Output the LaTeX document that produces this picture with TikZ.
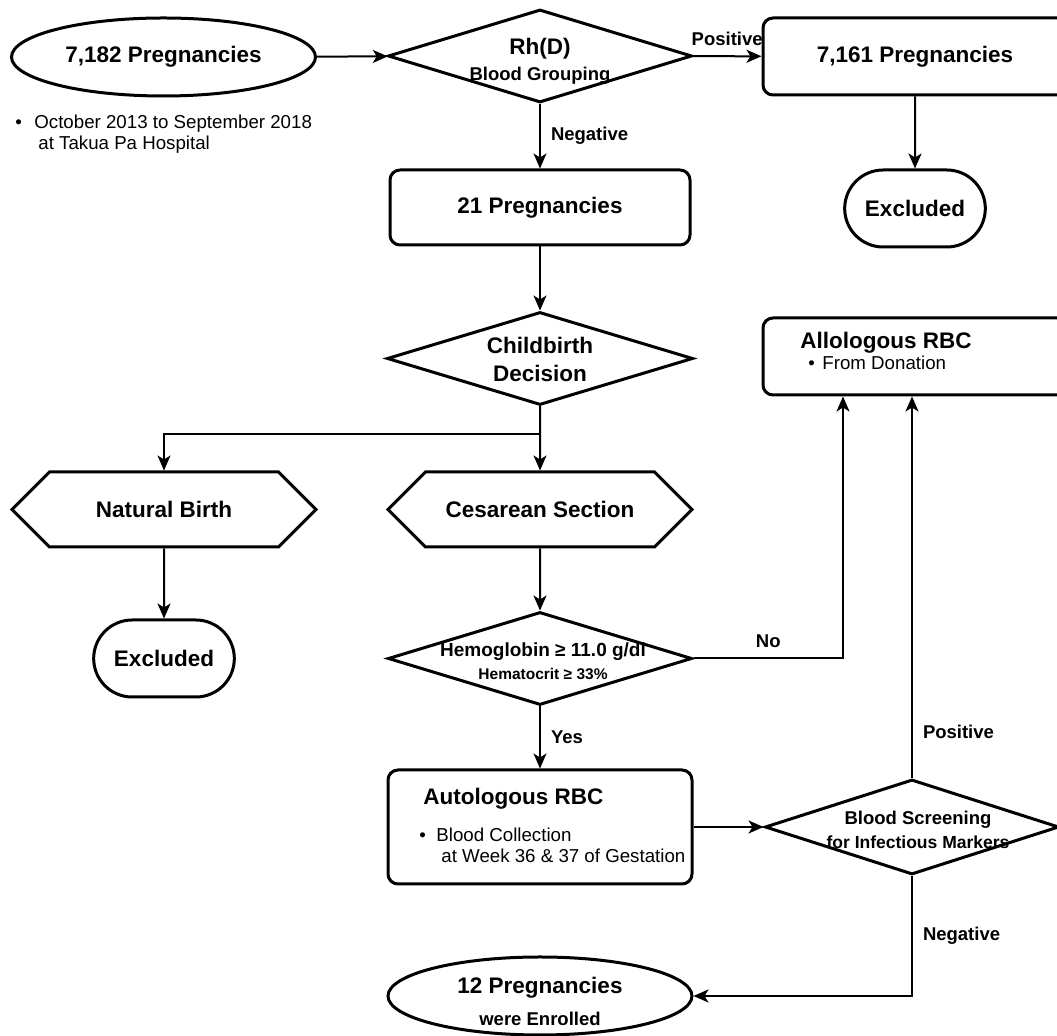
\documentclass[tikz,border=0pt]{standalone}
\usepackage{fontspec}
\setmainfont{Liberation Sans}
\usetikzlibrary{shapes.geometric,shapes.misc,shapes.symbols,arrows.meta}

\newcommand{\bigtxt}{\fontsize{11.25pt}{14pt}\selectfont\bfseries}
\newcommand{\medtxt}{\fontsize{9.25pt}{12pt}\selectfont\bfseries}
\newcommand{\plaintxt}{\fontsize{9.35pt}{10.5pt}\selectfont}
\newcommand{\smalltxt}{\fontsize{7.75pt}{11.5pt}\selectfont\bfseries}

\begin{document}
\begin{tikzpicture}[x=0.5pt, y=-0.5pt,
  outline/.style={draw, line width=1.5pt},
  terminal/.style={outline, ellipse, inner sep=0pt, minimum width=152pt, minimum height=39pt},
  process/.style={outline, rectangle, rounded corners=5pt, minimum width=152pt, minimum height=38.5pt, font=\bigtxt},
  exitbox/.style={outline, rounded rectangle, minimum width=77pt, minimum height=38.5pt, font=\bigtxt},
  decision/.style={outline, diamond, inner sep=0pt, minimum width=152pt, minimum height=46.5pt},
  choice/.style={outline, signal, signal to=west and east, signal pointer angle=90, minimum width=152pt, minimum height=37.5pt, font=\bigtxt},
  flow/.style={-{Stealth[length=7.5pt, width=6.5pt, inset=2pt]}, line width=1pt},
  lbl/.style={font=\medtxt, inner sep=2pt}]
  \useasboundingbox (0,0) rectangle (1057,1036);
  % Nodes
  \node[terminal] (start) at (163.5,57) {};
  \node[font=\bigtxt] (starttext) at (163.5,57) {7,182 Pregnancies};
  \node[font=\plaintxt, align=left, anchor=north west, inner sep=0pt] (period) at (15,115) {\makebox[9.5pt][l]{•}October 2013 to September 2018\\\hspace*{11.5pt}at Takua Pa Hospital};
  \node[decision] (rh) at (540,56) {};
  \node[font=\medtxt, align=center] (rhtext) at (540,61) {{\bigtxt Rh(D)}\\[1pt]Blood Grouping};
  \node[process] (pos) at (915,56.5) {7,161 Pregnancies};
  \node[exitbox] (exclR) at (915,208.5) {Excluded};
  \node[process, minimum width=150pt, minimum height=37.5pt] (preg) at (540,207.5) {21 Pregnancies};
  \node[decision, minimum width=153pt] (birth) at (540,358.5) {};
  \node[font=\bigtxt, align=center] (birthtext) at (540,359) {Childbirth\\Decision};
  \node[choice] (natural) at (164,509.5) {Natural Birth};
  \node[choice] (cesarean) at (540,509.5) {Cesarean Section};
  \node[exitbox] (exclL) at (164,658.5) {Excluded};
  \node[decision] (hb) at (540,658.5) {};
  \node[font=\smalltxt, align=center] (hbtext) at (543,661) {{\fontsize{9.5pt}{11.5pt}\selectfont Hemoglobin ≥ 11.0 g/dl}\\Hematocrit ≥ 33\%};
  \node[process, minimum height=57pt] (auto) at (540,827) {};
  \node[font=\bigtxt, anchor=base west, inner sep=0pt] (autotitle) at (423,805) {Autologous RBC};
  \node[font=\plaintxt, align=left, anchor=north west, inner sep=0pt] (autonote) at (419,828) {\makebox[8.5pt][l]{•}Blood Collection\\\hspace*{11pt}at Week 36 \& 37 of Gestation};
  \node[decision, minimum width=147pt, minimum height=47.5pt] (screen) at (912,827) {};
  \node[font=\medtxt, align=center] (screentext) at (918,830) {Blood Screening\\{\fontsize{8.75pt}{12pt}\selectfont for Infectious Markers}};
  \node[process] (allo) at (915,356.5) {};
  \node[font=\bigtxt, anchor=base west, inner sep=0pt] (allotitle) at (800,349) {Allologous RBC};
  \node[font=\plaintxt, anchor=base west, inner sep=0pt] (allonote) at (808,370) {\makebox[7pt][l]{•}From Donation};
  \node[terminal] (enrolled) at (540,996) {};
  \node[font=\medtxt, align=center] (enrolledtext) at (540,1001) {{\bigtxt 12 Pregnancies}\\[4pt]were Enrolled};
  % Arrows
  \draw[flow] (start) -- (rh);
  \draw[flow] (rh) -- (pos) node[lbl, midway, above=3pt] {Positive};
  \draw[flow] (rh) -- (preg) node[lbl, midway, right=3pt] {Negative};
  \draw[flow] (pos) -- (exclR);
  \draw[flow] (preg) -- (birth);
  \draw[flow] (birth) -- (cesarean);
  \draw[flow] (birth.south) -- ++(0,28) -| (natural.north);
  \draw[flow] (natural) -- (exclL);
  \draw[flow] (cesarean) -- (hb);
  \draw[flow] (hb.east) -| ([xshift=-36pt]allo.south) node[lbl, pos=0.25, above=3pt] {No};
  \draw[flow] (hb) -- (auto) node[lbl, midway, right=3pt] {Yes};
  \draw[flow] (auto) -- (screen);
  \draw[flow] (screen.north) -- (screen.north |- allo.south) node[lbl, pos=0.12, right=3pt] {Positive};
  \draw[flow] (screen.south) |- (enrolled.east) node[lbl, pos=0.25, right=3pt] {Negative};
\end{tikzpicture}
\end{document}
